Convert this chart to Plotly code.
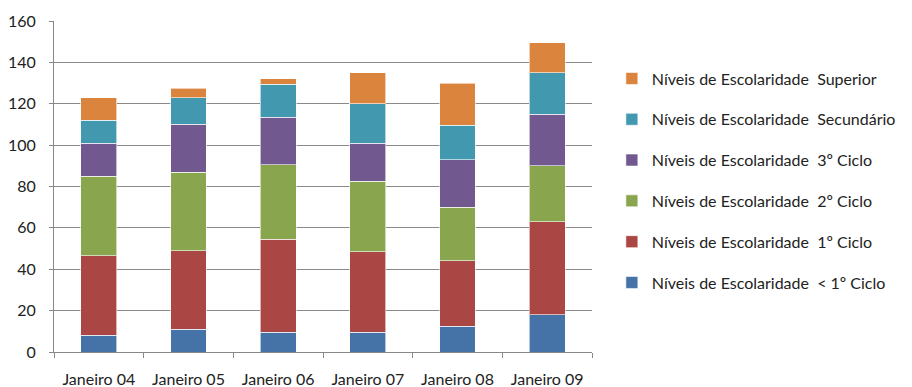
import plotly.graph_objects as go

# Categories (January of each year)
meses = ["Janeiro 04", "Janeiro 05", "Janeiro 06", "Janeiro 07", "Janeiro 08", "Janeiro 09"]

# Counts per schooling level, stacked bottom to top
menos_1_ciclo = [8, 11, 9.5, 9.5, 12.5, 18]
ciclo_1 = [38.5, 38, 45, 39, 31.5, 45]
ciclo_2 = [38.5, 38, 36, 34, 26, 27]
ciclo_3 = [16, 23, 23, 18.5, 23, 25]
secundario = [11, 13, 16, 19, 16.5, 20]
superior = [11, 4.5, 2.5, 15, 20.5, 14.5]

series = [
    ("Níveis de Escolaridade  < 1º Ciclo", menos_1_ciclo, "#4572A7"),
    ("Níveis de Escolaridade  1º Ciclo", ciclo_1, "#AA4643"),
    ("Níveis de Escolaridade  2º Ciclo", ciclo_2, "#89A54E"),
    ("Níveis de Escolaridade  3º Ciclo", ciclo_3, "#71588F"),
    ("Níveis de Escolaridade  Secundário", secundario, "#4198AF"),
    ("Níveis de Escolaridade  Superior", superior, "#DB843D"),
]

fig = go.Figure()
n = len(series)
for i, (nome, valores, cor) in enumerate(series):
    fig.add_trace(go.Bar(
        x=meses, y=valores, name=nome, legendgroup=f"g{i}",
        legendrank=n - i,
        marker=dict(color=cor, line=dict(color="rgba(255,255,255,0.6)", width=1)),
    ))

fig.update_layout(
    barmode="stack",
    bargap=0.6,
    width=912, height=387,
    margin=dict(l=54, r=319, t=21, b=35),
    paper_bgcolor="white", plot_bgcolor="white",
    font=dict(family="Lato, Open Sans, sans-serif", size=16, color="#222222"),
    legend=dict(
        traceorder="grouped", tracegroupgap=17,
        x=1.035, xanchor="left", y=0.518, yanchor="middle",
        font=dict(size=16), itemwidth=30,
    ),
    showlegend=True,
)
fig.update_xaxes(
    showline=True, linecolor="#888888", linewidth=1,
    ticks="outside", tickson="boundaries", ticklen=5, tickcolor="#888888",
    ticklabelstandoff=13, automargin=False,
)
fig.update_yaxes(
    range=[0, 160], dtick=20,
    showline=True, linecolor="#888888", linewidth=1,
    showgrid=True, gridcolor="#8a8a8a", gridwidth=1,
    ticks="outside", ticklen=4, tickcolor="#888888",
    ticklabelstandoff=10, zeroline=False, automargin=False,
)

fig.write_html("out.html")
